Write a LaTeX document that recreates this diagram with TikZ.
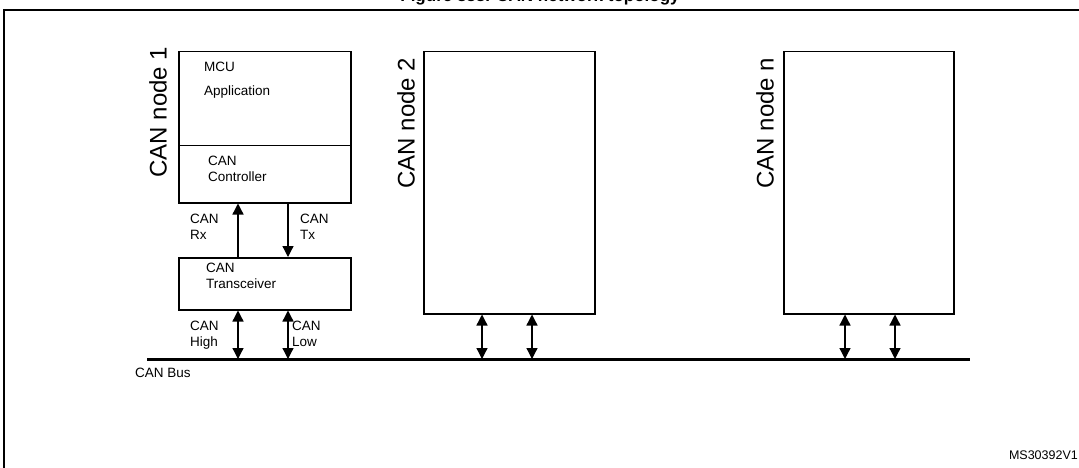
\documentclass[tikz,border=0pt]{standalone}
\usepackage{fontspec}
\setmainfont{Liberation Sans}
\usetikzlibrary{arrows.meta, positioning}

\begin{document}
\begin{tikzpicture}[
    x=1pt, y=-1pt,
    unit/.style={rectangle, draw, line width=1.5pt, minimum width=172pt, anchor=north west, align=left, inner sep=0pt},
    lbl/.style={font=\fontsize{13.5}{16}\selectfont, align=left, inner sep=0pt},
    side/.style={font=\fontsize{24}{26}\selectfont, rotate=90, inner sep=0pt},
    arrow/.style={-{Triangle[length=11pt,width=11pt]}, line width=1.3pt},
    both/.style={{Triangle[length=11pt,width=11pt]}-{Triangle[length=11pt,width=11pt]}, line width=1.3pt}
]
    \useasboundingbox (0,0) rectangle (1079,468);
    \begin{scope}
    \clip (0,0) rectangle (1079,468);
    % Title and frame
    \node[font=\bfseries\fontsize{17}{19}\selectfont] (title) at (540,-3) {Figure 388. CAN network topology};
    \draw[line width=1.5pt] (4,480) -- (4,10) -- (1090,10);
    \end{scope}

    % CAN node 1
    \node[side] (name1) at (158,112) {CAN node 1};
    \node[unit, minimum height=94pt] (mcu) at (178,51) {};
    \node[lbl, anchor=north west] (mcutxt) at (204,62) {MCU\\[8pt]Application};
    \node[unit, minimum height=57pt] (ctrl) at (178,145) {};
    \node[lbl, anchor=north west] (ctrltxt) at (208,156) {CAN\\Controller};
    \node[unit, minimum height=52pt] (trx) at (178,257) {};
    \node[lbl, anchor=north west] (trxtxt) at (206,263) {CAN\\Transceiver};

    \draw[arrow] (trx.north west -| 238,0) -- (ctrl.south west -| 238,0);
    \draw[arrow] (ctrl.south west -| 288,0) -- (trx.north west -| 288,0);
    \node[lbl, anchor=north west] (rx) at (190,214) {CAN\\Rx};
    \node[lbl, anchor=north west] (tx) at (300,214) {CAN\\Tx};

    % CAN bus
    \coordinate (busl) at (147,359);
    \coordinate (busr) at (970,359);
    \draw[line width=3pt] (busl) -- (busr);
    \node[lbl, anchor=north west] (bus) at (135,368) {CAN Bus};

    \draw[both] (trx.south west -| 238,0) -- (busl -| 238,0);
    \draw[both] (trx.south west -| 288,0) -- (busl -| 288,0);
    \node[lbl, anchor=north west] (hi) at (190,321) {CAN\\High};
    \node[lbl, anchor=north west] (lo) at (292,321) {CAN\\Low};

    % CAN node 2
    \node[side] (name2) at (406,123) {CAN node 2};
    \node[unit, minimum width=171pt, minimum height=262pt] (n2) at (423,51) {};
    \draw[both] (n2.south west -| 482,0) -- (busl -| 482,0);
    \draw[both] (n2.south west -| 532,0) -- (busl -| 532,0);

    % CAN node n
    \node[side] (namen) at (765,123) {CAN node n};
    \node[unit, minimum width=170pt, minimum height=262pt] (nn) at (783,51) {};
    \draw[both] (nn.south west -| 845,0) -- (busl -| 845,0);
    \draw[both] (nn.south west -| 895,0) -- (busl -| 895,0);

    \node[font=\fontsize{12.5}{14}\selectfont, anchor=east, inner sep=0pt] (ref) at (1078,455) {MS30392V1};
\end{tikzpicture}
\end{document}
